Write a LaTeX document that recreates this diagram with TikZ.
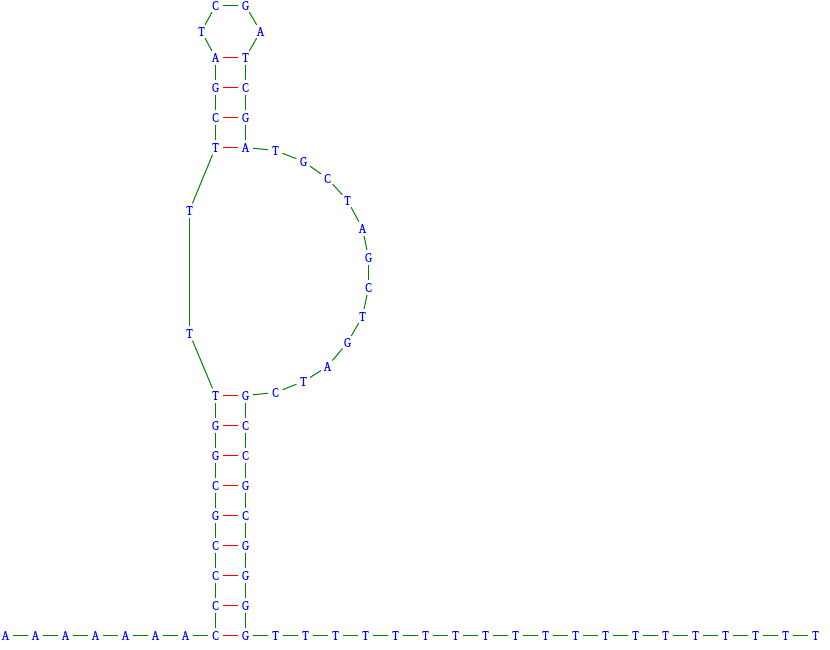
\documentclass[tikz,border=0pt]{standalone}
\usepackage{fontspec}
\setmainfont{Liberation Serif}[FakeStretch=0.78,FakeBold=0.5]
\begin{document}
\begin{tikzpicture}[x=1pt,y=-1pt,
  nt/.style={circle,minimum size=15pt,inner sep=0pt,text=blue,font=\fontsize{13}{13}\selectfont},
  bb/.style={draw={rgb,255:red,0;green,128;blue,0},line width=1pt},
  bond/.style={draw={rgb,255:red,255;green,0;blue,0},line width=1pt}]
\useasboundingbox (0,0) rectangle (830,650);
\begin{scope}[shift={(0.5,0.5)}]
% 5' tail of A's
\foreach \i in {1,...,7} \node[nt] (a\i) at ({30*\i-25},635) {A};
% 3' tail of T's
\foreach \i in {1,...,19} \node[nt] (t\i) at ({245+30*\i},635) {T};
% other bases
\foreach \n/\x/\y/\s in {
  L1/215/635/C, L2/215/605/C, L3/215/575/C, L4/215/545/C, L5/215/515/G,
  L6/215/485/C, L7/215/455/G, L8/215/425/G, L9/215/395/T,
  R1/245/635/G, R2/245/605/G, R3/245/575/G, R4/245/545/G, R5/245/515/C,
  R6/245/485/G, R7/245/455/C, R8/245/425/C, R9/245/395/G,
  b1/189/333/T, b2/189/210/T,
  U1/215/147/T, U2/215/117/C, U3/215/87/G, U4/215/57/A,
  h1/201/31/T, h2/215/5/C, h3/245/5/G, h4/260/31/A,
  V4/245/57/T, V3/245/87/C, V2/245/117/G, V1/245/147/A,
  l1/275/150/T, l2/303/161/G, l3/327/178/C, l4/347/200/T, l5/362/228/A,
  l6/368/257/G, l7/368/287/C, l8/362/316/T, l9/347/342/G, l10/327/366/A,
  l11/303/381/T, l12/275/392/C}
  \node[nt] (\n) at (\x,\y) {\s};
% backbone
\foreach \i [count=\j from 2] in {1,...,6} \draw[bb] (a\i) -- (a\j);
\foreach \i [count=\j from 2] in {1,...,18} \draw[bb] (t\i) -- (t\j);
\foreach \i [count=\j from 2] in {1,...,8} {
  \draw[bb] (L\i) -- (L\j);
  \draw[bb] (R\i) -- (R\j);
}
\foreach \i [count=\j from 2] in {1,...,3} {
  \draw[bb] (U\i) -- (U\j);
  \draw[bb] (V\i) -- (V\j);
}
\foreach \i [count=\j from 2] in {1,...,11} \draw[bb] (l\i) -- (l\j);
\foreach \p/\q in {a7/L1, L9/b1, b1/b2, b2/U1, U4/h1, h1/h2, h2/h3, h3/h4,
  h4/V4, V1/l1, l12/R9, R1/t1}
  \draw[bb] (\p) -- (\q);
% base pairs
\foreach \i in {1,...,9} \draw[bond] (L\i) -- (R\i);
\foreach \i in {1,...,4} \draw[bond] (U\i) -- (V\i);
\end{scope}
\end{tikzpicture}
\end{document}
